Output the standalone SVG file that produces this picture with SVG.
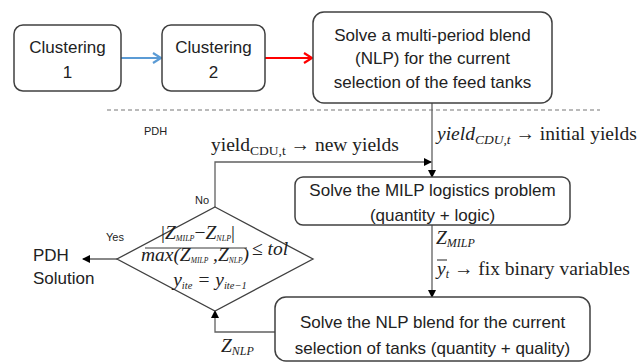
<svg xmlns="http://www.w3.org/2000/svg" width="644" height="362" viewBox="0 0 644 362">
<defs>
<marker id="ah" markerWidth="8" markerHeight="8" refX="7" refY="4" orient="auto" markerUnits="userSpaceOnUse"><path d="M0,0 L8,4 L0,8 z" fill="#000"/></marker>
<marker id="blue" markerWidth="12" markerHeight="12" refX="10" refY="6" orient="auto" markerUnits="userSpaceOnUse"><path d="M2,1 L10,6 L2,11" fill="none" stroke="#5B9BD5" stroke-width="2.2"/></marker>
<marker id="red" markerWidth="12" markerHeight="12" refX="10" refY="6" orient="auto" markerUnits="userSpaceOnUse"><path d="M2,1 L10,6 L2,11" fill="none" stroke="#FF0000" stroke-width="2.2"/></marker>
<style>
.box{fill:#fff;stroke:#404040;stroke-width:1.5}
.t{font-family:"Liberation Sans",Arial,sans-serif;font-size:17px;fill:#222;text-anchor:middle}
.l{font-family:"Liberation Sans",Arial,sans-serif;font-size:17px;fill:#222}
.s{font-family:"Liberation Sans",Arial,sans-serif;font-size:11px;fill:#222}
.m{font-family:"Liberation Serif","Times New Roman",serif;font-size:19.5px;fill:#222}
.i{font-style:italic}
.c{fill:none;stroke:#606060;stroke-width:1.3}
</style>
</defs>
<line x1="107" y1="110" x2="600" y2="110" stroke="#777" stroke-width="1.2" stroke-dasharray="4,3"/>
<g id="connectors">
<line x1="121" y1="58" x2="161" y2="58" stroke="#5B9BD5" stroke-width="2.2" marker-end="url(#blue)"/>
<line x1="265" y1="58" x2="312" y2="58" stroke="#FF0000" stroke-width="2.2" marker-end="url(#red)"/>
<line class="c" x1="432" y1="103" x2="432" y2="177" marker-end="url(#ah)"/>
<polyline class="c" points="215,207 215,162 431,162" marker-end="url(#ah)"/>
<line class="c" x1="432" y1="225" x2="432" y2="297" marker-end="url(#ah)"/>
<polyline class="c" points="275,332 215,332 215,311" marker-end="url(#ah)"/>
<line class="c" x1="117" y1="259" x2="83" y2="259" marker-end="url(#ah)"/>
</g>
<g id="clustering1">
<rect class="box" x="14" y="25" width="107" height="66" rx="9"/>
<text class="t" x="67.5" y="53">Clustering</text>
<text class="t" x="67.5" y="78">1</text>
</g>
<g id="clustering2">
<rect class="box" x="162" y="25" width="103" height="66" rx="9"/>
<text class="t" x="213.5" y="53">Clustering</text>
<text class="t" x="213.5" y="78">2</text>
</g>
<g id="blend">
<rect class="box" x="313" y="12" width="239" height="91" rx="11"/>
<text class="t" x="432.5" y="41">Solve a multi-period blend</text>
<text class="t" x="432.5" y="64">(NLP) for the current</text>
<text class="t" x="432.5" y="88">selection of the feed tanks</text>
</g>
<text class="s" x="144" y="135">PDH</text>
<text class="m" x="437" y="140"><tspan class="i">yield</tspan><tspan class="i" font-size="13.5" dy="4">CDU,t</tspan><tspan dy="-4"> → initial yields</tspan></text>
<text class="m" x="211" y="151">yield<tspan font-size="13.5" dy="4">CDU,t</tspan><tspan dy="-4"> → new yields</tspan></text>
<text class="s" x="195" y="204">No</text>
<g id="milp">
<rect class="box" x="295" y="177" width="275" height="48" rx="8"/>
<text class="t" x="432.5" y="196">Solve the MILP logistics problem</text>
<text class="t" x="432.5" y="221">(quantity + logic)</text>
</g>
<text class="m i" x="436" y="244">Z<tspan font-size="12" dy="3">MILP</tspan></text>
<text class="m" x="437" y="275"><tspan class="i">y</tspan><tspan font-size="12" class="i" dy="3">t</tspan><tspan dy="-3">  → fix binary variables</tspan></text>
<line x1="437" y1="260" x2="447" y2="260" stroke="#222" stroke-width="1"/>
<g id="decision">
<polygon points="215,207 313,259 215,311 117,259" fill="#fff" stroke="#404040" stroke-width="1.3"/>
<text class="m" x="198" y="239" font-size="11.5" text-anchor="middle">|<tspan class="i">Z</tspan><tspan class="i" font-size="8" dy="1.5">MILP</tspan><tspan dy="-1.5">−</tspan><tspan class="i">Z</tspan><tspan class="i" font-size="8" dy="1.5">NLP</tspan><tspan dy="-1.5">|</tspan></text>
<line x1="145" y1="248" x2="247" y2="248" stroke="#222" stroke-width="0.9"/>
<text class="m i" x="195" y="261" font-size="11" text-anchor="middle">max(Z<tspan font-size="7.5" dy="1.5">MILP</tspan><tspan dy="-1.5"> ,Z</tspan><tspan font-size="7.5" dy="1.5">NLP</tspan><tspan dy="-1.5">)</tspan></text>
<text class="m" x="252" y="255" font-size="16">≤ <tspan class="i">tol</tspan></text>
<text class="m i" x="210" y="286" font-size="15.5" text-anchor="middle">y<tspan font-size="10.5" dy="3">ite</tspan><tspan dy="-3"> = y</tspan><tspan font-size="10.5" dy="3">ite−1</tspan></text>
</g>
<text class="s" x="106" y="241">Yes</text>
<text class="l" x="33" y="261">PDH</text>
<text class="l" x="33" y="284">Solution</text>
<g id="nlp">
<rect class="box" x="275" y="297" width="315" height="64" rx="11"/>
<text class="t" x="432.5" y="328">Solve the NLP blend for the current</text>
<text class="t" x="432.5" y="354">selection of tanks (quantity + quality)</text>
</g>
<text class="m i" x="221" y="352">Z<tspan font-size="12" dy="3">NLP</tspan></text>
</svg>
